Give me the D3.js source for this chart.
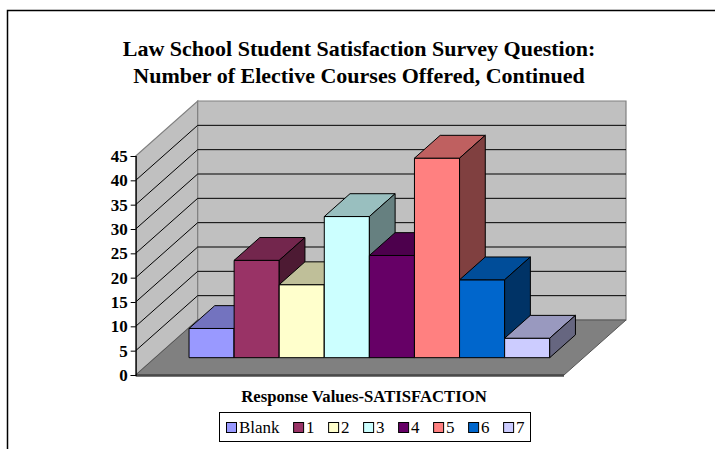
<!DOCTYPE html>
<html>
<head>
<meta charset="utf-8">
<script src="https://cdn.jsdelivr.net/npm/d3@7"></script>
<style>
  body { margin: 0; background: #fff; }
  svg text { font-family: "Liberation Serif", "Times New Roman", serif; }
</style>
</head>
<body>
<svg id="chart" width="715" height="449"></svg>
<script>
// data
var categories = ["Blank", "1", "2", "3", "4", "5", "6", "7"]
var values = [6, 20, 15, 29, 21, 41, 16, 4]
var colors = ["#9999FF", "#993366", "#FFFFCC", "#CCFFFF", "#660066", "#FF8080", "#0066CC", "#CCCCFF"]
var yTicks = [0, 5, 10, 15, 20, 25, 30, 35, 40, 45]
var titleLines = ["Law School Student Satisfaction Survey Question:", "Number of Elective Courses Offered, Continued"]
var xTitle = "Response Values-SATISFACTION"

var svg = d3.select("#chart")

// plot frame, front plane
var left = 135.7, right = 564, depthX = 62, depthY = -55

var y = d3.scaleLinear().domain([0, 45]).range([375, 156])
var x = d3.scaleBand().domain(categories).range([left, right]).paddingInner(0).paddingOuter(0.75)
// bars sit in a slab inside the depth of the floor
var z = d3.scaleLinear().domain([0, 1]).range([0.315, 0.73])

function shift(p, d){ return [p[0] + d*depthX, p[1] + d*depthY] }
function poly(pts){ return "M" + pts.map(p => p[0] + "," + p[1]).join("L") + "Z" }

// chart border (only top and left are in view)
svg.append("path").attr("d", "M7.5,449V10.5H715").attr("fill", "none").attr("stroke", "#000").attr("stroke-width", 1.5)

// walls
var y0 = y(0), yTop = y(45)
svg.append("path").attr("class", "sidewall")
	.attr("d", poly([[left, y0], [left, yTop], shift([left, yTop], 1), shift([left, y0], 1)]))
	.attr("fill", "#c0c0c0").attr("stroke", "#808080").attr("stroke-width", 1.2)
svg.append("path").attr("class", "backwall")
	.attr("d", poly([shift([left, yTop], 1), shift([right, yTop], 1), shift([right, y0], 1), shift([left, y0], 1)]))
	.attr("fill", "#c0c0c0").attr("stroke", "#808080").attr("stroke-width", 1.2)

// gridlines
var grid = yTicks.filter(v => v > 0 && v < 45)
svg.selectAll(".gside").data(grid).enter().append("line").attr("class", "gside")
	.attr("x1", left).attr("y1", d => y(d))
	.attr("x2", left + depthX).attr("y2", d => y(d) + depthY)
	.attr("stroke", "#000").attr("stroke-width", 1)
svg.selectAll(".gback").data(grid).enter().append("line").attr("class", "gback")
	.attr("x1", left + depthX).attr("y1", d => y(d) + depthY)
	.attr("x2", right + depthX).attr("y2", d => y(d) + depthY)
	.attr("stroke", "#000").attr("stroke-width", 1)

// floor
svg.append("path")
	.attr("d", poly([[left, y0], [right, y0], shift([right, y0], 1), shift([left, y0], 1)]))
	.attr("fill", "#808080").attr("stroke", "#555").attr("stroke-width", 1)
svg.append("line").attr("x1", left).attr("x2", right).attr("y1", y0 + 0.5).attr("y2", y0 + 0.5)
	.attr("stroke", "#4a4a4a").attr("stroke-width", 2.5)

// bars, left to right so each one covers its neighbour's side
var dz = z(1) - z(0)
var bars = svg.selectAll(".bar").data(values).enter().append("g").attr("class", "bar")
bars.each(function(v, i){
	var g = d3.select(this)
	var x0 = x(categories[i]), x1 = x0 + x.bandwidth()
	var fb = shift([x0, y(0)], z(0)), ft = shift([x0, y(v)], z(0))
	var fr = shift([x1, y(0)], z(0)), frt = shift([x1, y(v)], z(0))
	var c = d3.color(colors[i])
	var darker = k => d3.rgb(c.r*k, c.g*k, c.b*k)
	// front
	g.append("path").attr("d", poly([fb, ft, frt, fr])).attr("fill", colors[i])
	// top
	g.append("path").attr("d", poly([ft, frt, shift(frt, dz), shift(ft, dz)])).attr("fill", darker(0.75))
	// side
	g.append("path").attr("d", poly([fr, frt, shift(frt, dz), shift(fr, dz)])).attr("fill", darker(0.5))
})
bars.selectAll("path").attr("stroke", "#000").attr("stroke-width", 1).attr("stroke-linejoin", "round")

// y axis
var yAxis = d3.axisLeft(y).tickValues(yTicks).tickSize(5).tickPadding(3).tickFormat(d3.format("d"))
var ax = svg.append("g").attr("transform", "translate(" + left + ",0)").call(yAxis)
ax.select(".domain").attr("stroke", "#000").attr("stroke-width", 1.2)
ax.selectAll(".tick line").attr("stroke", "#000")
ax.selectAll(".tick text").attr("font-size", 17).attr("font-weight", "bold").attr("fill", "#000")

// title
svg.append("text").attr("x", 359).attr("y", 56).attr("text-anchor", "middle")
	.attr("font-size", 22).attr("font-weight", "bold")
	.selectAll("tspan").data(titleLines).enter().append("tspan")
	.attr("x", 359).attr("dy", (d, i) => i ? 27 : 0).text(d => d)

// x axis title
svg.append("text").attr("x", 364).attr("y", 402).attr("text-anchor", "middle")
	.attr("font-size", 16.7).attr("font-weight", "bold").text(xTitle)

// legend
var legend = svg.append("g")
legend.append("rect").attr("x", 219.5).attr("y", 412.5).attr("width", 311).attr("height", 29)
	.attr("fill", "#fff").attr("stroke", "#000").attr("stroke-width", 1)
var lx = 226
categories.forEach(function(c, i){
	legend.append("rect").attr("x", lx + 0.5).attr("y", 422.5).attr("width", 10).attr("height", 10)
		.attr("fill", colors[i]).attr("stroke", "#000").attr("stroke-width", 1)
	var t = legend.append("text").attr("x", lx + 13).attr("y", 433).attr("font-size", 17).text(c)
	lx += 13 + t.node().getComputedTextLength() + 13.5
})
</script>
</body>
</html>
